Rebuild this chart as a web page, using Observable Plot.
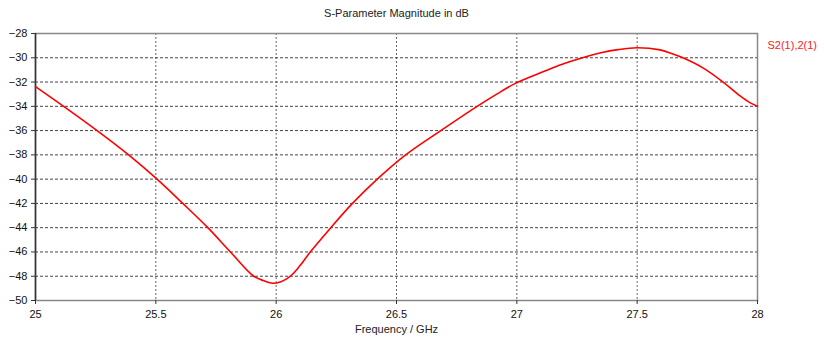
<!DOCTYPE html>
<html>
<head>
<meta charset="utf-8">
<script src="https://cdn.jsdelivr.net/npm/d3@7"></script>
<script src="https://cdn.jsdelivr.net/npm/@observablehq/plot@0.6"></script>
<style>
  html, body { margin: 0; padding: 0; background: #fff; }
  #chart svg { display: block; }
</style>
</head>
<body>
<div id="chart"></div>
<script>
const title = "S-Parameter Magnitude in dB";
const seriesName = "S2(1),2(1)";
const xLabel = "Frequency / GHz";
const freq = [25.00, 25.117, 25.256, 25.387, 25.505, 25.612, 25.716, 25.81, 25.907, 25.95, 25.985, 26.02, 26.045, 26.07, 26.1, 26.14, 26.227, 26.317, 26.42, 26.538, 26.684, 26.835, 26.92, 26.99, 27.06, 27.14, 27.2, 27.28, 27.35, 27.42, 27.5, 27.595, 27.64, 27.69, 27.775, 27.857, 27.925, 27.97, 28.0];
const s21 = [-32.37, -34, -36, -38, -40, -42, -44, -46, -48, -48.38, -48.58, -48.45, -48.2, -47.8, -47.1, -46.05, -44, -42, -40, -38, -36, -34, -32.95, -32.15, -31.55, -30.9, -30.45, -29.95, -29.58, -29.33, -29.18, -29.35, -29.62, -30, -30.85, -32, -33.1, -33.72, -34.0];
const xTicks = [25, 25.5, 26, 26.5, 27, 27.5, 28];
const yTicks = [-50, -48, -46, -44, -42, -40, -38, -36, -34, -32, -30, -28];

const data = freq.map((f, i) => ({f, v: s21[i]}));
const font = "'Liberation Sans', Arial, sans-serif";

const chart = Plot.plot({
  width: 824,
  height: 340,
  marginLeft: 35,
  marginRight: 67,
  marginTop: 33,
  marginBottom: 40,
  style: {fontFamily: font, fontSize: "11px", color: "#000", background: "#fff"},
  x: {domain: [25, 28], ticks: xTicks, label: null},
  y: {domain: [-50, -28], ticks: yTicks, label: null},
  marks: [
    Plot.gridX(xTicks.slice(1, -1), {stroke: "#666", strokeOpacity: 1, strokeDasharray: "2,2"}),
    Plot.gridY(yTicks.slice(1, -1), {stroke: "#444", strokeOpacity: 1, strokeDasharray: "3,2"}),
    Plot.frame({stroke: "#888", strokeWidth: 1.5}),
    Plot.ruleX([25], {stroke: "#333", strokeWidth: 1.5}),
    Plot.axisY(yTicks, {tickSize: 4, tickPadding: 4, stroke: "#333", fill: "#111", fontSize: 11}),
    Plot.axisX(xTicks, {tickSize: 4, tickPadding: 6, stroke: "#333", fill: "#111", fontSize: 11, label: null, tickFormat: d => String(d)}),
    Plot.line(data, {x: "f", y: "v", stroke: "#ff0000", strokeWidth: 1.6, curve: "catmull-rom"}),
    Plot.text([title], {frameAnchor: "top", dy: -20, lineAnchor: "middle", text: d => d, fill: "#222", fontSize: 11}),
    Plot.text([xLabel], {frameAnchor: "bottom", dy: 29, lineAnchor: "middle", text: d => d, fill: "#222", fontSize: 11}),
    Plot.text([seriesName], {frameAnchor: "top-right", dx: 10, dy: 12, lineAnchor: "middle", textAnchor: "start", text: d => d, fill: "#ff2020", fontSize: 11})
  ]
});
document.getElementById("chart").appendChild(chart);
</script>
</body>
</html>
